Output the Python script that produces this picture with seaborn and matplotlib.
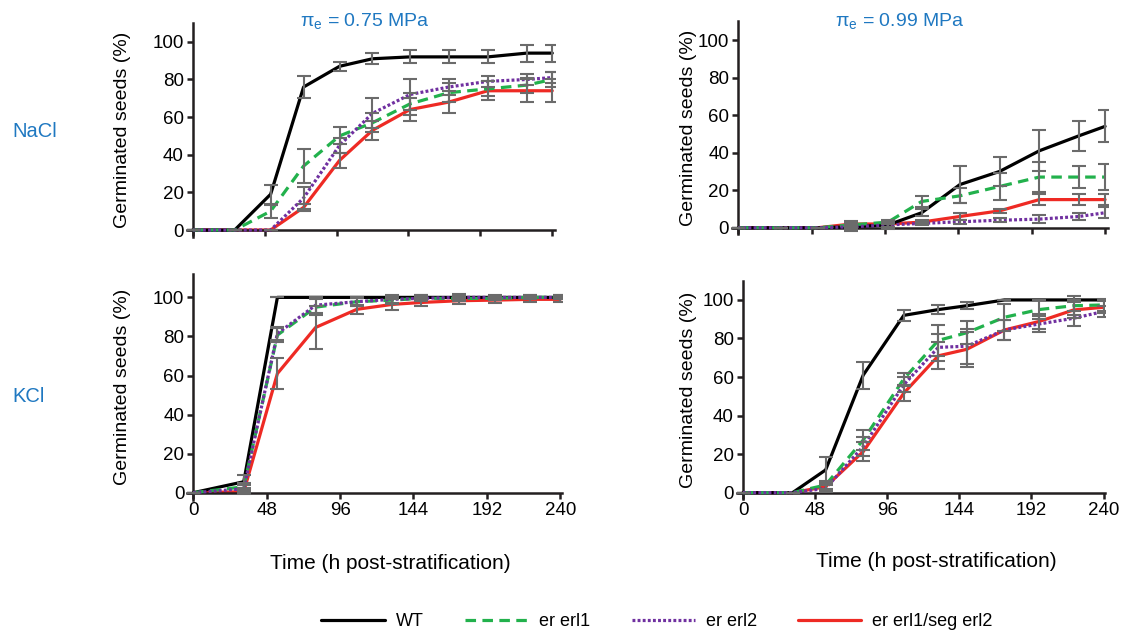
import numpy as np
import pandas as pd
import seaborn as sns
import matplotlib.pyplot as plt

# Time points (h post-stratification)
t_top = [0, 28, 52, 74, 98, 120, 145, 171, 197, 223, 240]
t_bot = [0, 33, 55, 80, 107, 130, 149, 174, 197, 220, 240]

genotypes = ['WT', 'er erl1', 'er erl2', 'er erl1/seg erl2']

# NaCl, pi_e = 0.75 MPa
nacl75 = {
    'WT': [0, 0, 19, 76, 87, 91, 92, 92, 92, 94, 94],
    'er erl1': [0, 0, 10, 34, 50, 57, 67, 73, 75, 77, 80],
    'er erl2': [0, 0, 0, 17, 45, 62, 72, 76, 79, 80, 81],
    'er erl1/seg erl2': [0, 0, 0, 12, 37, 53, 64, 68, 74, 74, 74],
}
nacl75_err = {
    'WT': [0, 0, 5, 6, 2.5, 3, 3.5, 3.5, 3.5, 4.5, 4.5],
    'er erl1': [0, 0, 3.5, 9, 4.5, 5, 6, 5, 4, 4, 4],
    'er erl2': [0, 0, 0, 6, 4, 8, 8, 4, 3, 3, 3],
    'er erl1/seg erl2': [0, 0, 0, 2, 4, 5, 6, 6, 5, 6, 6],
}

# NaCl, pi_e = 0.99 MPa
nacl99 = {
    'WT': [0, 0, 0, 0.5, 1.5, 8, 23, 30, 41, 49, 54],
    'er erl1': [0, 0, 0, 1.5, 3, 14, 17, 22, 27, 27, 27],
    'er erl2': [0, 0, 0, 0.5, 1.5, 2.3, 3.2, 4, 4.6, 6, 8],
    'er erl1/seg erl2': [0, 0, 0, 2, 2, 3, 6, 9, 15, 15, 15],
}
nacl99_err = {
    'WT': [0, 0, 0, 2, 2, 2, 10, 7.5, 11, 8, 8.5],
    'er erl1': [0, 0, 0, 1, 1, 3, 4, 7, 8, 6, 7],
    'er erl2': [0, 0, 0, 1, 1, 1, 1, 1, 2, 2, 3],
    'er erl1/seg erl2': [0, 0, 0, 1.5, 1.5, 1, 2, 1, 3, 3, 3],
}

# KCl, pi_e = 0.75 MPa
kcl75 = {
    'WT': [0, 5.6, 100, 100, 100, 100, 100, 100, 100, 100, 100],
    'er erl1': [0, 3, 80.7, 95, 97.8, 98.6, 99.5, 99.5, 99.5, 100, 100],
    'er erl2': [0, 2, 81.5, 96, 97.8, 99, 99.5, 100, 100, 100, 100],
    'er erl1/seg erl2': [0, 0.5, 61, 84.6, 93.9, 96.4, 97.4, 98.3, 98.6, 99, 99],
}
kcl75_err = {
    'WT': [0, 3.4, 0, 0, 0, 0, 0, 0, 0, 0, 0],
    'er erl1': [0, 2, 3.5, 4, 2, 2, 1.5, 1.5, 1, 1, 1],
    'er erl2': [0, 2, 3.5, 4, 2, 2, 1.5, 1.5, 1, 1, 1],
    'er erl1/seg erl2': [0, 1, 8, 11, 2.2, 3, 2, 1.5, 1.5, 1.5, 1.5],
}

# KCl, pi_e = 0.99 MPa
kcl99 = {
    'WT': [0, 0, 11.8, 61, 92, 95, 97, 100, 100, 100, 100],
    'er erl1': [0, 0, 4, 27.3, 59, 79, 83, 91, 95, 97, 97.4],
    'er erl2': [0, 0, 2.2, 24, 56, 75.4, 76, 84.4, 87.5, 90.5, 94],
    'er erl1/seg erl2': [0, 0, 3.1, 21.3, 51.6, 71, 74.4, 84.4, 88.8, 94.8, 96.2],
}
kcl99_err = {
    'WT': [0, 0, 6.5, 7, 2.8, 2.3, 1.7, 0, 0, 0, 0],
    'er erl1': [0, 0, 2, 5, 3, 8, 6, 7, 5, 5, 3],
    'er erl2': [0, 0, 2, 5, 4, 7, 9, 5, 4, 4, 3],
    'er erl1/seg erl2': [0, 0, 2, 5, 4, 7, 9, 5, 4, 4, 3],
}

colors = {'WT': '#000000', 'er erl1': '#22b14c',
          'er erl2': '#7030a0', 'er erl1/seg erl2': '#ee2a24'}
styles = {'WT': '-', 'er erl1': (0, (3.3, 2.0)),
          'er erl2': (0, (0.9, 0.7)), 'er erl1/seg erl2': '-'}
zorders = {'WT': 3, 'er erl1': 3, 'er erl2': 4, 'er erl1/seg erl2': 2}

sns.set_style('ticks')
plt.rcParams['font.family'] = ['Liberation Sans', 'DejaVu Sans']
plt.rcParams['mathtext.fontset'] = 'custom'
plt.rcParams['mathtext.rm'] = 'Liberation Sans'
plt.rcParams['mathtext.it'] = 'Liberation Sans:italic'
for key in ['text.color', 'axes.labelcolor', 'xtick.labelcolor', 'ytick.labelcolor']:
    plt.rcParams[key] = 'black'

fig = plt.figure(figsize=(11.29, 6.34), dpi=100)

# [left, bottom, width, height], ylim top, xlim right, ylabel x, show x labels
panels = [
    (nacl75, nacl75_err, t_top, [0.1654, 0.6268, 0.3264, 0.3369], 110, 242, -0.150, False),
    (nacl99, nacl99_err, t_top, [0.6485, 0.6304, 0.3330, 0.3361], 110, 242, -0.094, False),
    (kcl75, kcl75_err, t_bot, [0.1658, 0.2121, 0.3318, 0.3558], 112, 241, -0.150, True),
    (kcl99, kcl99_err, t_bot, [0.6528, 0.2123, 0.3260, 0.3450], 110, 241, -0.108, True),
]

axes = []
for vals, errs, times, rect, ytop, xright, ylx, show_x in panels:
    ax = fig.add_axes(rect)
    axes.append(ax)
    for g in genotypes:
        sns.lineplot(x=times, y=vals[g], ax=ax, color=colors[g], linestyle=styles[g],
                     linewidth=2.3, label=g, legend=False, zorder=zorders[g])
        ax.errorbar(times, vals[g], yerr=errs[g], fmt='none', ecolor='#6b6b6b',
                    elinewidth=1.5, capsize=5, capthick=1.5, zorder=5)
    ax.set_xlim(-4, xright)
    ax.set_ylim(-3.5, ytop)
    ax.set_xticks([0, 48, 96, 144, 192, 240])
    ax.set_yticks([0, 20, 40, 60, 80, 100])
    ax.spines['left'].set_position(('data', 0))
    ax.spines['bottom'].set_position(('data', 0))
    for s in ['left', 'bottom']:
        ax.spines[s].set_linewidth(1.8)
        ax.spines[s].set_color('#231f20')
    sns.despine(ax=ax)
    ax.tick_params(axis='both', length=4.5, width=1.8, color='#231f20',
                   labelcolor='black', labelsize=13.5, pad=2)
    ax.set_ylabel('Germinated seeds (%)', fontsize=14)
    ax.yaxis.set_label_coords(ylx, 0.5)
    if show_x:
        ax.set_xlabel('Time (h post-stratification)', fontsize=15)
        ax.xaxis.set_label_coords(0.541, -0.24)
    else:
        ax.tick_params(axis='x', labelbottom=False)
        ax.set_xlabel('')

blue = '#1f78c1'
fig.text(365 / 1129, 1 - 21 / 634, r'π$_{\mathrm{e}}$ = 0.75 MPa', color=blue,
         fontsize=14, ha='center', va='center')
fig.text(900 / 1129, 1 - 21 / 634, r'π$_{\mathrm{e}}$ = 0.99 MPa', color=blue,
         fontsize=14, ha='center', va='center')
fig.text(12 / 1129, 1 - 131 / 634, 'NaCl', color=blue, fontsize=14.5,
         ha='left', va='center')
fig.text(12 / 1129, 1 - 396 / 634, 'KCl', color=blue, fontsize=14.5,
         ha='left', va='center')

handles, labels = axes[0].get_legend_handles_labels()
handles = [h for h, l in zip(handles, labels) if l in genotypes]
labels = [l for l in labels if l in genotypes]
fig.legend(handles, labels, loc='center', bbox_to_anchor=(0.582, 1 - 622 / 634),
           ncol=4, frameon=False, fontsize=13, handlelength=3.5,
           handletextpad=0.6, columnspacing=2.3)

plt.savefig('out.png', dpi=100)
